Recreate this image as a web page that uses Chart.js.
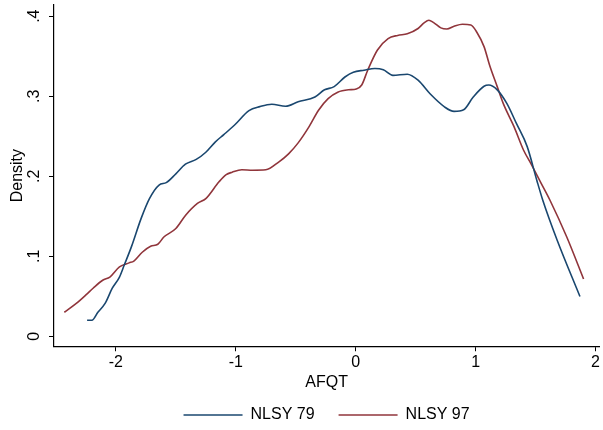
<!DOCTYPE html>
<html>
<head>
<meta charset="utf-8">
<script src="https://cdn.jsdelivr.net/npm/chart.js@4/dist/chart.umd.min.js"></script>
<style>
  html, body { margin: 0; padding: 0; background: #fff; }
  #wrap { width: 603px; height: 430px; }
</style>
</head>
<body>
<div id="wrap"><canvas id="c"></canvas></div>
<script>
// kernel density estimates of AFQT
var nlsy79X = [-2.24, -2.20, -2.15, -2.09, -2.03, -1.97, -1.93, -1.87, -1.79, -1.72,
  -1.64, -1.58, -1.50, -1.42, -1.33, -1.25, -1.17, -1.10, -1.01, -0.89,
  -0.80, -0.70, -0.585, -0.48, -0.34, -0.26, -0.18, -0.09, -0.02, 0.07,
  0.16, 0.23, 0.31, 0.43, 0.52, 0.62, 0.74, 0.82, 0.90, 0.98,
  1.07, 1.11, 1.18, 1.26, 1.34, 1.43, 1.51, 1.56, 1.68, 1.87];
var nlsy79Y = [0.020, 0.020, 0.030, 0.041, 0.060, 0.074, 0.089, 0.112, 0.147, 0.172,
  0.189, 0.192, 0.203, 0.215, 0.221, 0.230, 0.243, 0.252, 0.264, 0.282,
  0.287, 0.290, 0.2875, 0.293, 0.299, 0.308, 0.312, 0.324, 0.330, 0.3325,
  0.3346, 0.333, 0.326, 0.3275, 0.320, 0.303, 0.2867, 0.281, 0.283, 0.299,
  0.3125, 0.314, 0.308, 0.291, 0.266, 0.237, 0.195, 0.170, 0.120, 0.0496];

var nlsy97X = [-2.43, -2.33, -2.24, -2.19, -2.11, -2.05, -1.97, -1.89, -1.85, -1.78,
  -1.71, -1.65, -1.60, -1.50, -1.42, -1.32, -1.25, -1.14, -1.08, -1.03,
  -0.95, -0.86, -0.75, -0.64, -0.56, -0.48, -0.39, -0.31, -0.23, -0.15,
  -0.06, 0.005, 0.05, 0.10, 0.18, 0.27, 0.35, 0.43, 0.52, 0.57,
  0.61, 0.65, 0.71, 0.76, 0.82, 0.89, 0.96, 1.01, 1.07, 1.12,
  1.18, 1.23, 1.32, 1.40, 1.46, 1.54, 1.62, 1.76, 1.90];
var nlsy97Y = [0.030, 0.041, 0.053, 0.060, 0.070, 0.074, 0.0867, 0.0917, 0.094, 0.105,
  0.1125, 0.115, 0.124, 0.1346, 0.151, 0.166, 0.172, 0.193, 0.202, 0.205,
  0.208, 0.2075, 0.208, 0.218, 0.228, 0.2417, 0.2617, 0.2825, 0.297, 0.305,
  0.308, 0.309, 0.314, 0.3325, 0.3575, 0.372, 0.376, 0.378, 0.3846, 0.3917,
  0.395, 0.392, 0.3854, 0.384, 0.3875, 0.390, 0.389, 0.380, 0.362, 0.337,
  0.312, 0.291, 0.262, 0.2325, 0.216, 0.193, 0.170, 0.124, 0.0716];

var xTicks = [-2, -1, 0, 1, 2];
var yTicks = [0, 0.1, 0.2, 0.3, 0.4];
var yTickLabels = ['0', '.1', '.2', '.3', '.4'];

function toPoints(xs, ys) {
  return xs.map(function(x, i) { return { x: x, y: ys[i] }; });
}

var font = 'Arial, "Liberation Sans", Helvetica, sans-serif';

// stata draws the y tick labels turned on their side
var rotatedYLabels = {
  id: 'rotatedYLabels',
  afterDraw: function(chart) {
    var ctx = chart.ctx;
    var ys = chart.scales.y;
    ctx.save();
    ctx.fillStyle = '#000';
    ctx.font = '16px ' + font;
    ctx.textAlign = 'center';
    ctx.textBaseline = 'middle';
    yTicks.forEach(function(v, i) {
      var py = ys.getPixelForValue(v);
      ctx.save();
      ctx.translate(35, py);
      ctx.rotate(-Math.PI / 2);
      ctx.fillText(yTickLabels[i], 0, 0);
      ctx.restore();
    });
    ctx.restore();
  }
};

var ctx = document.getElementById('c').getContext('2d');
var chart = new Chart(ctx, {
  type: 'scatter',
  data: {
    datasets: [{
      label: 'NLSY 79',
      data: toPoints(nlsy79X, nlsy79Y),
      showLine: true,
      borderColor: '#1a476f',
      backgroundColor: '#1a476f',
      borderWidth: 1.6,
      pointRadius: 0,
      cubicInterpolationMode: 'monotone'
    }, {
      label: 'NLSY 97',
      data: toPoints(nlsy97X, nlsy97Y),
      showLine: true,
      borderColor: '#90353b',
      backgroundColor: '#90353b',
      borderWidth: 1.6,
      pointRadius: 0,
      cubicInterpolationMode: 'monotone'
    }]
  },
  options: {
    responsive: true,
    maintainAspectRatio: false,
    animation: false,
    layout: { padding: { left: 0, right: 0, top: 5, bottom: -3 } },
    plugins: {
      tooltip: { enabled: false },
      legend: {
        position: 'bottom',
        fullSize: false,
        labels: {
          color: '#000',
          font: { family: font, size: 16 },
          usePointStyle: true,
          pointStyle: 'line',
          pointStyleWidth: 59,
          padding: 24
        }
      }
    },
    scales: {
      x: {
        type: 'linear',
        min: -2.516,
        max: 2.03,
        afterBuildTicks: function(scale) {
          scale.ticks = xTicks.map(function(v) { return { value: v }; });
        },
        grid: { drawOnChartArea: false, tickLength: 5, color: '#000', tickWidth: 1 },
        border: { color: '#000', width: 1.2 },
        ticks: {
          color: '#000',
          padding: 3,
          maxRotation: 0,
          font: { family: font, size: 16, lineHeight: 1 },
          callback: function(v) { return String(v); }
        },
        title: {
          display: true,
          text: 'AFQT',
          color: '#000',
          padding: { top: 1, bottom: -7.25 },
          font: { family: font, size: 16, lineHeight: 1 }
        }
      },
      y: {
        type: 'linear',
        min: -0.0125,
        max: 0.414,
        afterBuildTicks: function(scale) {
          scale.ticks = yTicks.map(function(v) { return { value: v }; });
        },
        afterFit: function(scale) { scale.width = 54; },
        grid: { drawOnChartArea: false, tickLength: 5, color: '#000', tickWidth: 1 },
        border: { color: '#000', width: 1.2 },
        ticks: { display: false },
        title: {
          display: true,
          text: 'Density',
          color: '#000',
          padding: { top: 10, bottom: 0 },
          font: { family: font, size: 16, lineHeight: 1 }
        }
      }
    }
  },
  plugins: [rotatedYLabels]
});
</script>
</body>
</html>
